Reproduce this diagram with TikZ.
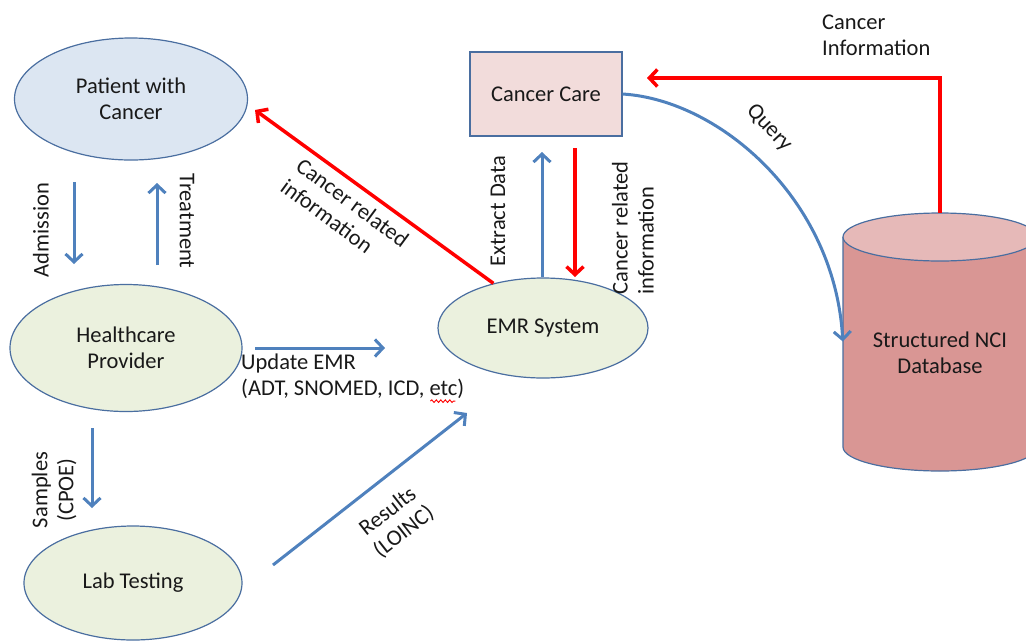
\documentclass[tikz,border=0pt]{standalone}
\usepackage{fontspec}
\setmainfont{Carlito}
\usetikzlibrary{shapes.geometric,arrows.meta,decorations.pathmorphing}

\definecolor{edge}{RGB}{74,110,160}
\definecolor{flowblue}{RGB}{79,129,189}
\definecolor{flowred}{RGB}{255,0,0}
\definecolor{patientfill}{RGB}{220,230,242}
\definecolor{greenfill}{RGB}{235,241,222}
\definecolor{carefill}{RGB}{242,220,219}
\definecolor{dbbody}{RGB}{217,150,148}
\definecolor{dbtop}{RGB}{230,185,184}
\definecolor{txt}{RGB}{25,25,25}

\begin{document}
\begin{tikzpicture}[x=1pt,y=-1pt,
  every node/.style={font=\fontsize{22.5}{26}\selectfont, text=txt},
  ell/.style={ellipse, draw=edge, line width=1.2pt, inner sep=0pt, align=center},
  boxnode/.style={rectangle, draw=edge, line width=1.2pt, inner sep=0pt, align=center},
  lbl/.style={inner sep=0pt, align=center},
  blueflow/.style={draw=flowblue, line width=3pt, -{Straight Barb[length=8pt,width=17pt]}},
  redflow/.style={draw=flowred, line width=3.5pt, -{Straight Barb[length=8pt,width=17pt]}},
  spellmark/.style={draw=flowred, line width=0.9pt, decorate,
    decoration={snake, amplitude=1.3pt, segment length=4.5pt}}]
\useasboundingbox (0,0) rectangle (1026,641);
\clip (0,0) rectangle (1026,641);

% ---- database cylinder ----
\fill[dbbody] (843,237) -- (843,447) arc[start angle=180, end angle=0, x radius=97, y radius=24] -- (1037,237) -- cycle;
\draw[edge, line width=1.2pt] (843,237) -- (843,447) arc[start angle=180, end angle=0, x radius=97, y radius=24] -- (1037,237);
\filldraw[fill=dbtop, draw=edge, line width=1.2pt] (940,237) ellipse[x radius=97, y radius=24];
\node[minimum width=194pt, minimum height=257pt, inner sep=0pt] (db) at (940,341.5) {};
\node[lbl] (dblabel) at (940,353) {Structured NCI\\Database};

% ---- main nodes ----
\node[ell, fill=patientfill, minimum width=233pt, minimum height=122pt] (pat) at (131,99) {Patient with\\Cancer};
\node[ell, fill=greenfill, minimum width=232pt, minimum height=127pt] (hcp) at (126,348) {Healthcare\\Provider};
\node[ell, fill=greenfill, minimum width=218pt, minimum height=114pt] (lab) at (133,583) {Lab Testing};
\node[ell, fill=greenfill, minimum width=210pt, minimum height=100pt] (emr) at (543,328) {EMR System};
\node[boxnode, fill=carefill, minimum width=152pt, minimum height=84pt] (cc) at (546,94) {Cancer Care};

% ---- free arrow ends ----
\coordinate (admA) at (74,182);   \coordinate (admB) at (74,264);
\coordinate (trtA) at (157,265);  \coordinate (trtB) at (157,183);
\coordinate (updA) at (255,348);  \coordinate (updB) at (385,348);
\coordinate (smpA) at (92,428);   \coordinate (smpB) at (92,508);
\coordinate (resA) at (273,565);  \coordinate (resB) at (467,413);
\coordinate (extA) at (542,277);  \coordinate (extB) at (542,152);
\coordinate (crA) at (575,148);   \coordinate (crB) at (575,277);
\coordinate (patTip) at (255,110);
\coordinate (ccTip) at (647,78);

% ---- connectors ----
\draw[blueflow] (admA) -- (admB);
\draw[blueflow] (trtA) -- (trtB);
\draw[blueflow] (updA) -- (updB);
\draw[blueflow] (smpA) -- (smpB);
\draw[blueflow] (resA) -- (resB);
\draw[blueflow] (extA) -- (extB);
\draw[redflow] (crA) -- (crB);
\draw[redflow] (emr.138) -- (patTip);
\draw[blueflow] (cc.east) .. controls (720,100) and (835,200) .. (db.west);
\draw[redflow] (db.north) |- (ccTip);

% ---- labels ----
\node[lbl, rotate=90] (admL) at (41,230) {Admission};
\node[lbl, rotate=-90] (trtL) at (187,221) {Treatment};
\node[lbl, rotate=90] (smpL) at (54,490) {Samples\\(CPOE)};
\node[lbl, rotate=90] (extL) at (498,211) {Extract Data};
\node[lbl, rotate=90, align=left] (crL) at (633,228) {Cancer related\\information};
\node[lbl, rotate=-36.5, align=left] (ciL) at (345,213) {Cancer related\\information};
\node[lbl, rotate=38] (resL) at (396,522) {Results\\(LOINC)};
\node[lbl, rotate=-47] (qL) at (769,128) {Query};
\node[lbl, align=left, anchor=north west] (updL) at (241,354) {Update EMR\\(ADT, SNOMED, ICD, etc)};
\node[lbl, align=left, anchor=north west] (cinfL) at (822,15) {Cancer\\Information};
\draw[spellmark] ([xshift=-34pt,yshift=-2pt]updL.south east) -- ([xshift=-9pt,yshift=-2pt]updL.south east);
\end{tikzpicture}
\end{document}
